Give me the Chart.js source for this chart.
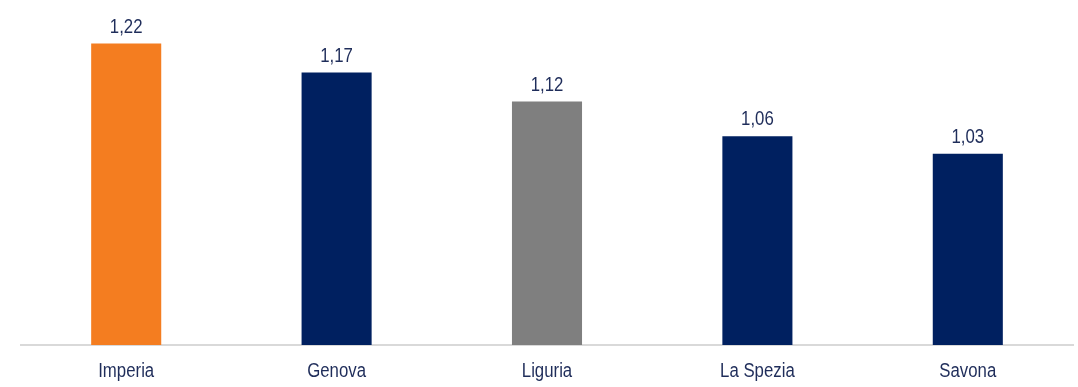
<!DOCTYPE html>
<html>
<head>
<meta charset="utf-8">
<script src="https://cdn.jsdelivr.net/npm/chart.js@4/dist/chart.umd.min.js"></script>
<style>
  html, body { margin: 0; padding: 0; background: #fff; }
  #wrap { width: 1078px; height: 387px; position: relative; }
</style>
</head>
<body>
<div id="wrap"><canvas id="chart"></canvas></div>
<script>
// Province values (index)
const categories = ["Imperia", "Genova", "Liguria", "La Spezia", "Savona"];
const values = [1.22, 1.17, 1.12, 1.06, 1.03];
const barColors = ["#F47D20", "#002060", "#7F7F7F", "#002060", "#002060"];

const textColor = "#1F2D5A";
const fontFamily = "'Liberation Sans', Arial, sans-serif";
const narrow = 0.84; // horizontal squeeze, narrow-font look

function narrowText(ctx, txt, x, y) {
  ctx.save();
  ctx.translate(x, y);
  ctx.scale(narrow, 1);
  ctx.fillText(txt, 0, 0);
  ctx.restore();
}

// value above each bar and category names under the axis
const labelsPlugin = {
  id: "labelsPlugin",
  afterDatasetsDraw(chart) {
    const ctx = chart.ctx;
    const meta = chart.getDatasetMeta(0);
    const xScale = chart.scales.x;
    ctx.save();
    ctx.fillStyle = textColor;
    ctx.font = "20px " + fontFamily;
    ctx.textAlign = "center";
    ctx.textBaseline = "alphabetic";
    meta.data.forEach((bar, i) => {
      const txt = values[i].toFixed(2).replace(".", ",");
      narrowText(ctx, txt, bar.x, bar.y - 11);
    });
    categories.forEach((c, i) => {
      narrowText(ctx, c, xScale.getPixelForTick(i), chart.chartArea.bottom + 32);
    });
    ctx.restore();
  }
};

new Chart(document.getElementById("chart"), {
  type: "bar",
  data: {
    labels: categories,
    datasets: [{
      data: values,
      backgroundColor: barColors,
      borderWidth: 0,
      categoryPercentage: 1,
      barPercentage: 0.333
    }]
  },
  options: {
    responsive: true,
    maintainAspectRatio: false,
    animation: false,
    layout: { padding: { top: 3, left: 21, right: 5, bottom: 0 } },
    plugins: {
      legend: { display: false },
      tooltip: { enabled: false }
    },
    scales: {
      x: {
        grid: { display: false, drawTicks: false },
        border: { display: true, color: "#D9D9D9", width: 2 },
        ticks: { display: false },
        afterFit(axis) { axis.height = 42; }
      },
      y: {
        display: false,
        min: 0.7,
        max: 1.29
      }
    }
  },
  plugins: [labelsPlugin]
});
</script>
</body>
</html>
